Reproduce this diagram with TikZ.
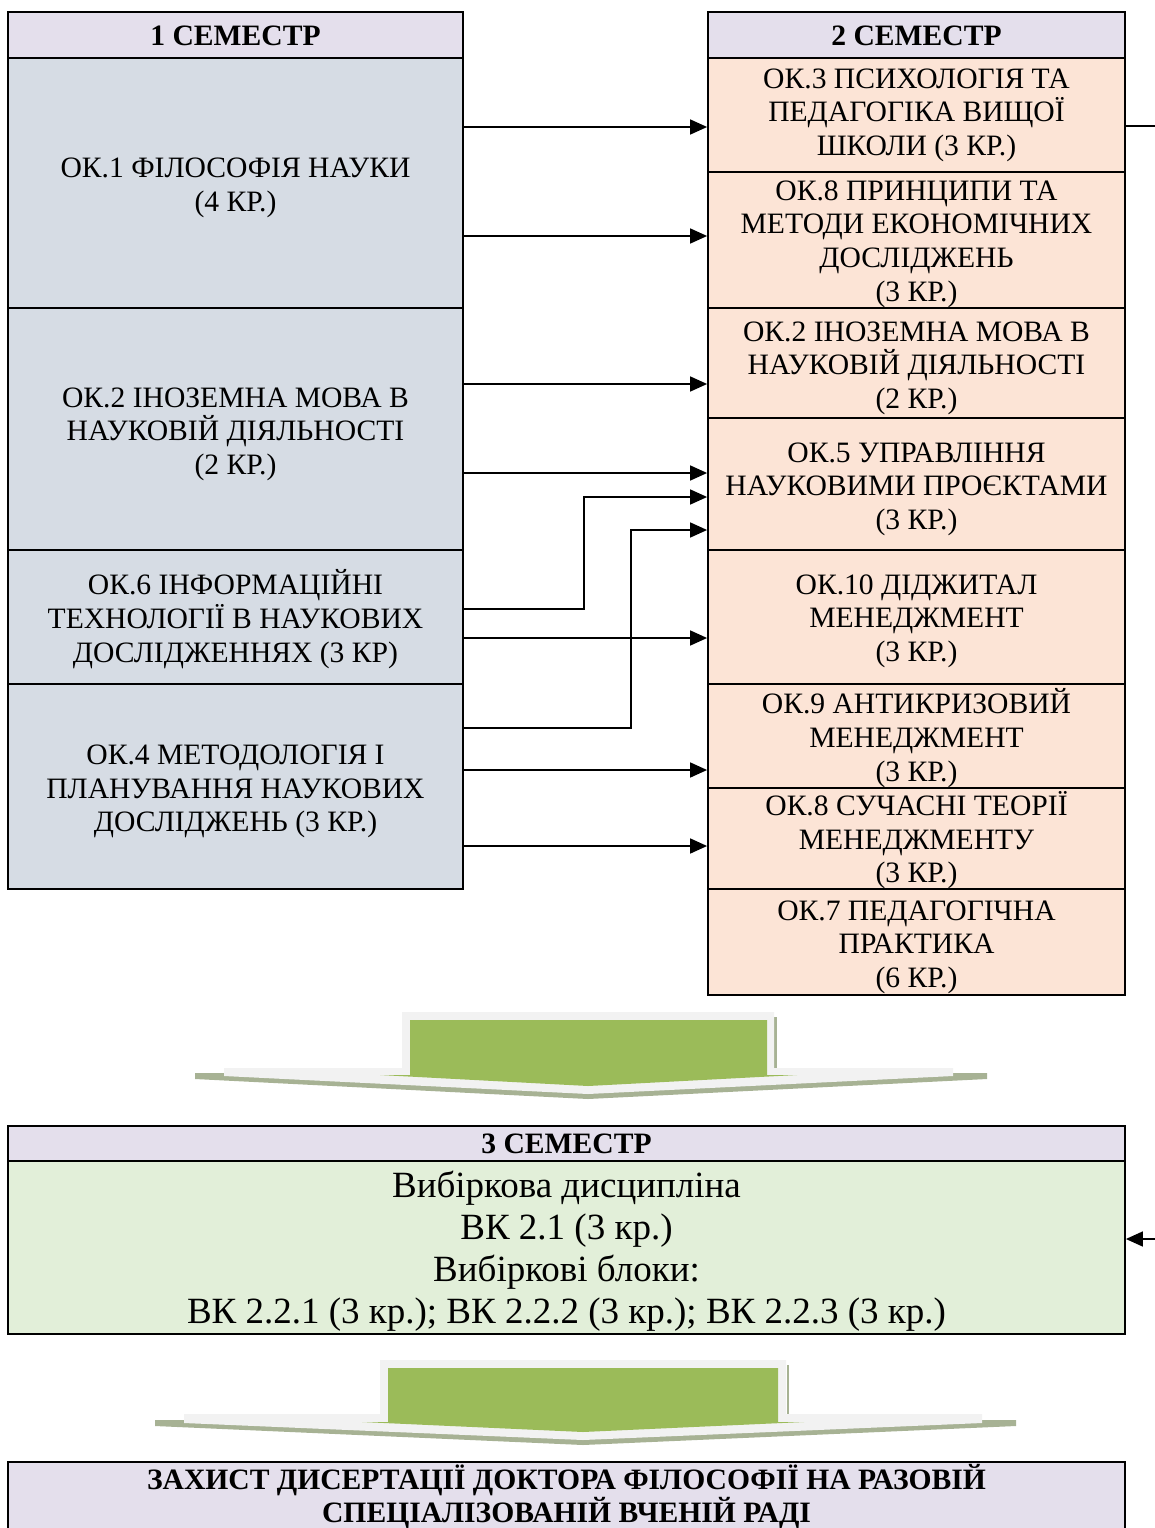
\documentclass[tikz,border=0pt]{standalone}
\usepackage{fontspec}
\setmainfont{Liberation Serif}
\usetikzlibrary{arrows.meta}
\definecolor{leftc}{HTML}{D6DCE4}
\definecolor{rightc}{HTML}{FCE4D6}
\definecolor{headc}{HTML}{E4DFEC}
\definecolor{semc}{HTML}{E2EFD9}
\definecolor{arrgreen}{HTML}{9BBB59}
\definecolor{arrgray}{HTML}{F2F2F2}
\definecolor{arrshadow}{HTML}{A7B294}
\begin{document}
\begin{tikzpicture}[x=1pt,y=-1pt,
  box/.style={draw=black,line width=1.8pt,inner sep=0pt},
  txt/.style={inner sep=0pt,align=center,font=\fontsize{29.6}{33.6}\selectfont},
  btxt/.style={inner sep=0pt,align=center,font=\bfseries\fontsize{29.6}{33}\selectfont},
  lbox/.style={box,fill=leftc,minimum width=455pt},
  rbox/.style={box,fill=rightc,minimum width=417pt},
  hbox/.style={box,fill=headc},
  conn/.style={line width=1.6pt,-{Triangle[length=17pt,width=15pt]}},
  plainconn/.style={line width=1.6pt},
]
\useasboundingbox (0,0) rectangle (1154,1528);

% Semester 1
\node[hbox,minimum width=455pt,minimum height=46pt] (h1) at (235.5,35) {};
\node[btxt] (h1t) at ([yshift=-1pt]h1.center) {1 СЕМЕСТР};
\node[lbox,minimum height=250pt] (l1) at (235.5,183) {};
\node[txt] (l1t) at ([yshift=-5pt]l1.center) {ОК.1 ФІЛОСОФІЯ НАУКИ\\(4 КР.)};
\node[lbox,minimum height=242pt] (l2) at (235.5,429) {};
\node[txt] (l2t) at ([yshift=-5pt]l2.center) {ОК.2 ІНОЗЕМНА МОВА В\\НАУКОВІЙ ДІЯЛЬНОСТІ\\(2 КР.)};
\node[lbox,minimum height=134pt] (l6) at (235.5,617) {};
\node[txt] (l6t) at ([yshift=-2pt]l6.center) {ОК.6 ІНФОРМАЦІЙНІ\\ТЕХНОЛОГІЇ В НАУКОВИХ\\ДОСЛІДЖЕННЯХ (3 КР)};
\node[lbox,minimum height=205pt] (l4) at (235.5,786.5) {};
\node[txt] (l4t) at ([yshift=-5pt]l4.center) {ОК.4 МЕТОДОЛОГІЯ І\\ПЛАНУВАННЯ НАУКОВИХ\\ДОСЛІДЖЕНЬ (3 КР.)};

% Semester 2
\node[hbox,minimum width=417pt,minimum height=46pt] (h2) at (916.5,35) {};
\node[btxt] (h2t) at ([yshift=-1pt]h2.center) {2 СЕМЕСТР};
\node[rbox,minimum height=114pt] (r3) at (916.5,115) {};
\node[txt] (r3t) at (r3.center) {ОК.3 ПСИХОЛОГІЯ ТА\\ПЕДАГОГІКА ВИЩОЇ\\ШКОЛИ (3 КР.)};
\node[rbox,minimum height=136pt] (r8) at (916.5,240) {};
\node[txt] (r8t) at ([yshift=-4pt]r8.center) {ОК.8 ПРИНЦИПИ ТА\\МЕТОДИ ЕКОНОМІЧНИХ\\ДОСЛІДЖЕНЬ\\(3 КР.)};
\node[rbox,minimum height=110pt] (r2) at (916.5,363) {};
\node[txt] (r2t) at ([yshift=-5pt]r2.center) {ОК.2 ІНОЗЕМНА МОВА В\\НАУКОВІЙ ДІЯЛЬНОСТІ\\(2 КР.)};
\node[rbox,minimum height=132pt] (r5) at (916.5,484) {};
\node[txt] (r5t) at ([yshift=-5pt]r5.center) {ОК.5 УПРАВЛІННЯ\\НАУКОВИМИ ПРОЄКТАМИ\\(3 КР.)};
\node[rbox,minimum height=134pt] (r10) at (916.5,617) {};
\node[txt] (r10t) at ([yshift=-4pt]r10.center) {ОК.10 ДІДЖИТАЛ\\МЕНЕДЖМЕНТ\\(3 КР.)};
\node[rbox,minimum height=104pt] (r9) at (916.5,736) {};
\node[txt] (r9t) at ([yshift=-2pt]r9.center) {ОК.9 АНТИКРИЗОВИЙ\\МЕНЕДЖМЕНТ\\(3 КР.)};
\node[rbox,minimum height=101pt] (r8b) at (916.5,838.5) {};
\node[txt] (r8bt) at ([yshift=-2pt]r8b.center) {ОК.8 СУЧАСНІ ТЕОРІЇ\\МЕНЕДЖМЕНТУ\\(3 КР.)};
\node[rbox,minimum height=106pt] (r7) at (916.5,942) {};
\node[txt] (r7t) at ([yshift=-5pt]r7.center) {ОК.7 ПЕДАГОГІЧНА\\ПРАКТИКА\\(6 КР.)};

% connectors
\draw[conn] (l1.east |- 0,127) -- (r3.west |- 0,127);
\draw[conn] (l1.east |- 0,236) -- (r8.west |- 0,236);
\draw[conn] (l2.east |- 0,384) -- (r2.west |- 0,384);
\draw[conn] (l2.east |- 0,473) -- (r5.west |- 0,473);
\draw[conn] (l6.east |- 0,609) -- (584,609) |- (r5.west |- 0,497);
\draw[conn] (l6.east |- 0,638) -- (r10.west |- 0,638);
\draw[conn] (l4.east |- 0,728) -- (631,728) |- (r5.west |- 0,530);
\draw[conn] (l4.east |- 0,770) -- (r9.west |- 0,770);
\draw[conn] (l4.east |- 0,846) -- (r8b.west |- 0,846);

% green arrow 1
\fill[arrshadow] (774,1017) rectangle (777,1068);
\fill[arrshadow] (195,1073) -- (987,1073) -- (987,1079) -- (588,1099) -- (195,1079) -- cycle;
\fill[arrgray] (402,1012) -- (774,1012) -- (774,1068) -- (953,1068) -- (953,1076) -- (588,1094) -- (224,1076) -- (224,1068) -- (402,1068) -- cycle;
\fill[arrgreen] (410,1020) -- (767,1020) -- (767,1075) -- (797,1075) -- (588,1086) -- (380,1075) -- (410,1075) -- cycle;

% Semester 3
\node[hbox,minimum width=1117pt,minimum height=35pt] (h3) at (566.5,1143.5) {};
\node[btxt] (h3t) at (h3.center) {3 СЕМЕСТР};
\node[box,fill=semc,minimum width=1117pt,minimum height=173pt] (s3) at (566.5,1247.5) {};
\node[inner sep=0pt,align=center,font=\fontsize{37}{42}\selectfont] (s3t) at ([yshift=-3.5pt]s3.center) {Вибіркова дисципліна\\ВК 2.1 (3 кр.)\\Вибіркові блоки:\\ВК 2.2.1 (3 кр.); ВК 2.2.2 (3 кр.); ВК 2.2.3 (3 кр.)};

% side connector
\coordinate (outA) at (1160,126);
\coordinate (outB) at (1160,1239);
\draw[plainconn] (r3.east |- outA) -- (outA);
\draw[conn] (outB) -- (s3.east |- outB);

% green arrow 2
\fill[arrshadow] (787,1365) rectangle (789,1414);
\fill[arrshadow] (155,1420) -- (1016,1420) -- (1016,1426) -- (583,1445) -- (155,1426) -- cycle;
\fill[arrgray] (380,1360) -- (786,1360) -- (786,1414) -- (982,1414) -- (982,1423) -- (583,1440) -- (184,1423) -- (184,1414) -- (380,1414) -- cycle;
\fill[arrgreen] (388,1368) -- (778,1368) -- (778,1422) -- (804,1422) -- (583,1432) -- (362,1422) -- (388,1422) -- cycle;

% defence
\node[hbox,minimum width=1117pt,minimum height=78pt] (d) at (566.5,1501) {};
\node[btxt] (dt) at (566.5,1496.5) {ЗАХИСТ ДИСЕРТАЦІЇ ДОКТОРА ФІЛОСОФІЇ НА РАЗОВІЙ\\СПЕЦІАЛІЗОВАНІЙ ВЧЕНІЙ РАДІ};
\end{tikzpicture}
\end{document}
